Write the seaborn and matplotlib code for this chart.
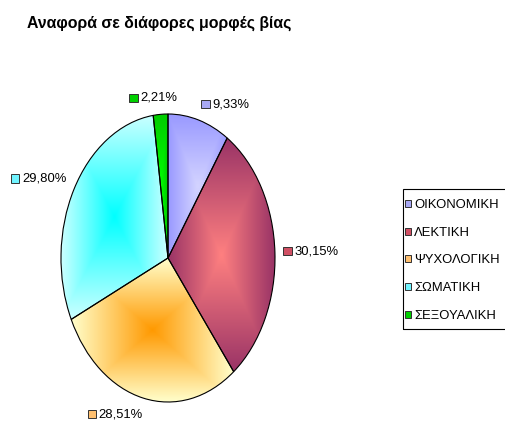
import numpy as np
import matplotlib
matplotlib.use("Agg")
import matplotlib.pyplot as plt
from matplotlib.colors import to_rgb
from matplotlib.patches import Rectangle, Patch
from matplotlib.offsetbox import AnnotationBbox, HPacker, DrawingArea, TextArea
import seaborn as sns

# ---- data ----
categories = ["ΟΙΚΟΝΟΜΙΚΗ", "ΛΕΚΤΙΚΗ", "ΨΥΧΟΛΟΓΙΚΗ", "ΣΩΜΑΤΙΚΗ", "ΣΕΞΟΥΑΛΙΚΗ"]
values = [9.33, 30.15, 28.51, 29.80, 2.21]
value_labels = ["9,33%", "30,15%", "28,51%", "29,80%", "2,21%"]
title = "Αναφορά σε διάφορες μορφές βίας"

# gradient (center, edge) colours and legend swatch colours
center_colors = ["#D4D4FF", "#FF8080", "#FF9900", "#00FFFF", "#00FF00"]
edge_colors = ["#9999FF", "#993366", "#FFFFCC", "#CCFFFF", "#00CC00"]
swatch_colors = ["#A8A8F4", "#D05064", "#FFC070", "#70F4FF", "#00D000"]

sns.set_theme(style="white")
plt.rcParams["font.family"] = ["Liberation Sans", "DejaVu Sans"]
plt.rcParams["text.color"] = "black"

W, H = 505, 421
fig = plt.figure(figsize=(W / 100, H / 100), dpi=100)
fig.patch.set_facecolor("white")

# pie rectangle in pixels (ellipse)
cx, cy, rx, ry = 168, 258, 107, 144
ax = fig.add_axes([(cx - rx) / W, (H - cy - ry) / H, 2 * rx / W, 2 * ry / H])

wedges, _ = ax.pie(values, startangle=90, counterclock=False, radius=1,
                   wedgeprops=dict(edgecolor="black", linewidth=0.8, facecolor="none"))
ax.set_aspect("auto")

n = 200
uu, vv = np.meshgrid(np.linspace(-1, 1, n), np.linspace(-1, 1, n))
tt = np.maximum(np.abs(uu), np.abs(vv))[..., None]
for w, c0, c1 in zip(wedges, center_colors, edge_colors):
    ext = w.get_path().get_extents()
    img = np.array(to_rgb(c0)) * (1 - tt) + np.array(to_rgb(c1)) * tt
    im = ax.imshow(img, extent=(ext.x0, ext.x1, ext.y0, ext.y1), origin="lower",
                   aspect="auto", zorder=0.5, interpolation="bilinear")
    im.set_clip_path(w)
    w.set_zorder(2)

ax.set_xlim(-1, 1)
ax.set_ylim(-1, 1)
ax.axis("off")

# data labels
lab_fs = 9.4
dist_x, dist_y = 6.0, 7.5
for w, txt, sc in zip(wedges, value_labels, swatch_colors):
    ang = np.deg2rad((w.theta1 + w.theta2) / 2)
    x, y = np.cos(ang), np.sin(ang)
    da = DrawingArea(6, 6, 0, 0)
    da.add_artist(Rectangle((0, 0), 6, 6, facecolor=sc, edgecolor="#333333", linewidth=0.7))
    ta = TextArea(txt, textprops=dict(fontsize=lab_fs, color="black"))
    box = HPacker(children=[da, ta], align="center", pad=0, sep=2)
    align = (float(np.clip(0.5 - 2 * x, 0, 1)), float(np.clip(0.5 - 2 * y, 0, 1)))
    ab = AnnotationBbox(box, (x, y), xycoords="data",
                        xybox=(dist_x * x, dist_y * y), boxcoords="offset points",
                        frameon=False, box_alignment=align, pad=0,
                        annotation_clip=False)
    ax.add_artist(ab)

# title
fig.text(27 / W, 1 - 28 / H, title, fontsize=11.4, color="black",
         fontweight="bold", ha="left", va="baseline")

# legend
handles = [Patch(facecolor=c, edgecolor="#333333", linewidth=0.7) for c in swatch_colors]
leg = fig.legend(handles, categories, loc="upper left",
                 bbox_to_anchor=(405 / W, 1 - 199 / H), frameon=False,
                 fontsize=9.4, handlelength=0.45, handleheight=0.45,
                 handletextpad=0.25, labelspacing=1.2, borderpad=0, borderaxespad=0)
for t in leg.get_texts():
    t.set_color("black")
fig.add_artist(Rectangle((403 / W, 1 - 329 / H), 110 / W, 140 / H,
                         transform=fig.transFigure, facecolor="none",
                         edgecolor="black", linewidth=0.8))

fig.savefig("out.png", dpi=100)
